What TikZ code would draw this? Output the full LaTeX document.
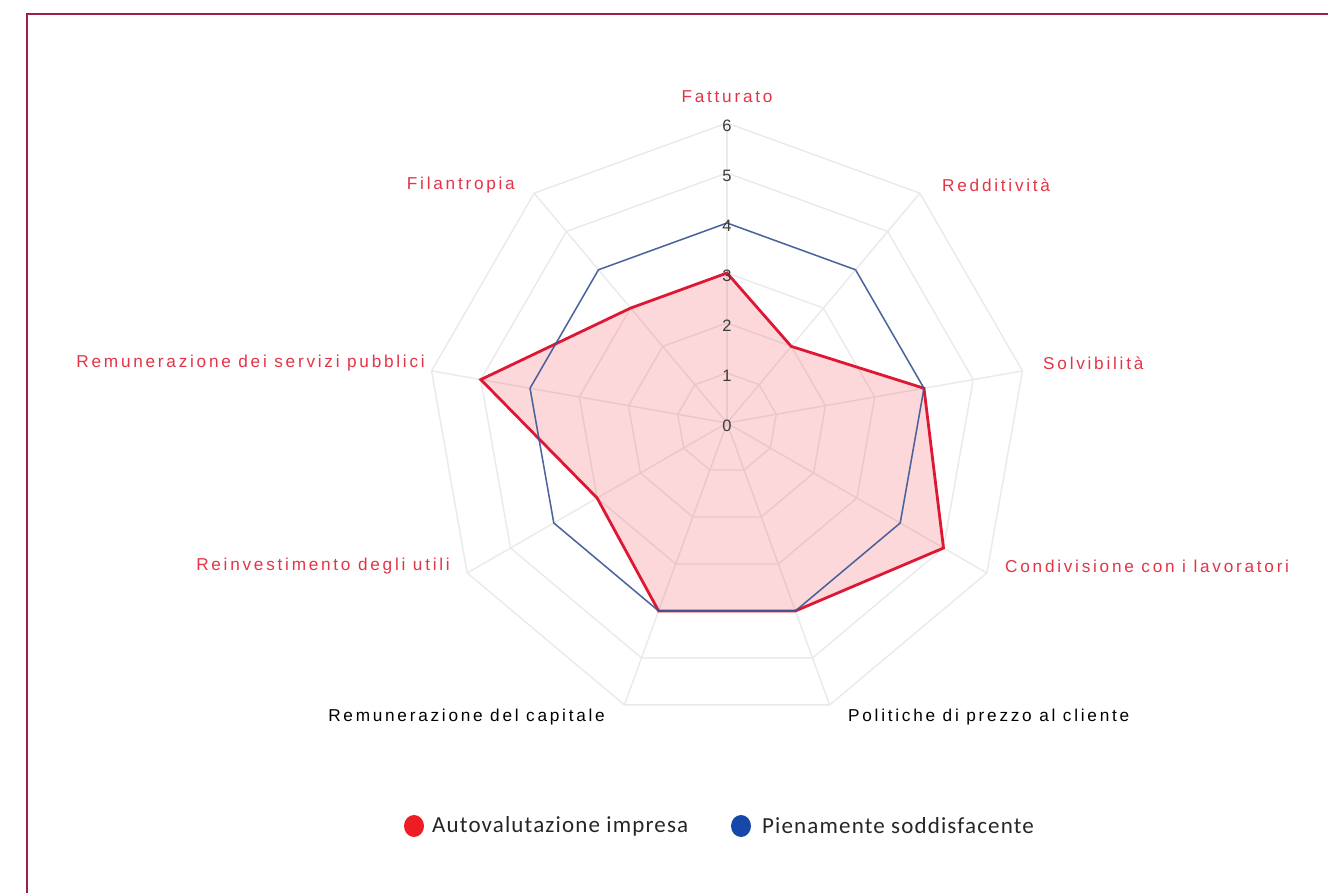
\documentclass[tikz,border=0pt]{standalone}
\usepackage{fontspec}
\setmainfont{Liberation Sans}
\newfontfamily\axisfont[LetterSpace=16]{Liberation Sans}
\newfontfamily\legfont[LetterSpace=5]{Carlito}
\definecolor{framecol}{RGB}{155,34,70}
\definecolor{labelred}{RGB}{228,52,72}
\definecolor{gridcol}{RGB}{234,234,234}
\definecolor{redline}{RGB}{222,24,52}
\definecolor{fillred}{RGB}{240,60,70}
\definecolor{blueline}{RGB}{58,86,150}
\definecolor{legred}{RGB}{238,28,37}
\definecolor{legblue}{RGB}{22,72,170}
\definecolor{tickcol}{RGB}{60,60,60}
\tikzset{
  gridline/.style={draw=gridcol, line width=1.4pt},
  axlab/.style={font=\axisfont\fontsize{17.2}{19}\selectfont, inner sep=0pt},
  redlab/.style={axlab, text=labelred},
  blacklab/.style={axlab, text=black},
  ticklab/.style={font=\fontsize{16.5}{18}\selectfont, text=tickcol, inner sep=0pt},
  legtext/.style={font=\legfont\fontsize{23}{26}\selectfont, text=black!85, inner sep=0pt, anchor=west},
  series red/.style={draw=redline, line width=2.8pt, line join=miter},
  series blue/.style={draw=blueline, line width=1.5pt, line join=miter}
}
\begin{document}
\begin{tikzpicture}[x=1pt,y=1pt]
\useasboundingbox (0,0) rectangle (1328,892);
\fill[white] (0,0) rectangle (1328,892);
% frame
\draw[framecol, line width=2.6pt] (27,-10) -- (27,878) -- (1340,878);
\begin{scope}[shift={(727,469)}]
  \coordinate (c) at (0,0);
  % grid
  \foreach \l in {1,...,6}{
    \draw[gridline] (90:50*\l) \foreach \k in {1,...,8}{ -- ({90-40*\k}:50*\l) } -- cycle;
  }
  \foreach \k in {0,...,8}{
    \draw[gridline] (c) -- ({90-40*\k}:300);
  }
  % red series fill
  \fill[fillred, fill opacity=0.2] (90:150) -- (50:100) -- (10:200) -- (-30:250) -- (-70:200) -- (-110:200) -- (-150:150) -- (170:250) -- (130:150) -- cycle;
  \draw[series red] (90:150) -- (50:100) -- (10:200) -- (-30:250) -- (-70:200) -- (-110:200) -- (-150:150) -- (170:250) -- (130:150) -- cycle;
  % blue series
  \draw[series blue, draw opacity=0.9] (90:200) \foreach \k in {1,...,8}{ -- ({90-40*\k}:200) } -- cycle;
  % ticks
  \foreach \v in {0,...,6}{
    \node[ticklab] (tick\v) at (0,50*\v-3) {\v};
  }
\end{scope}
% axis labels
\node[redlab] (fatt) at (727,795) {Fatturato};
\node[redlab, anchor=west] (redd) at (942,707) {Redditività};
\node[redlab, anchor=west] (solv) at (1043,529) {Solvibilità};
\node[redlab, anchor=west] (cond) at (1005,326) {Condivisione con i lavoratori};
\node[blacklab, anchor=west] (poli) at (848,175) {Politiche di prezzo al cliente};
\node[blacklab, anchor=east] (remc) at (605,175) {Remunerazione del capitale};
\node[redlab, anchor=east] (rein) at (450,326) {Reinvestimento degli utili};
\node[redlab, anchor=east] (rems) at (425,529) {Remunerazione dei servizi pubblici};
\node[redlab, anchor=east] (fila) at (515,707) {Filantropia};
% legend
\fill[legred] (414,66) ellipse [x radius=10, y radius=11];
\node[legtext] (leg1) at (432,66) {Autovalutazione impresa};
\fill[legblue] (741,66) ellipse [x radius=10, y radius=11];
\node[legtext] (leg2) at (762,66) {Pienamente soddisfacente};
\end{tikzpicture}
\end{document}
